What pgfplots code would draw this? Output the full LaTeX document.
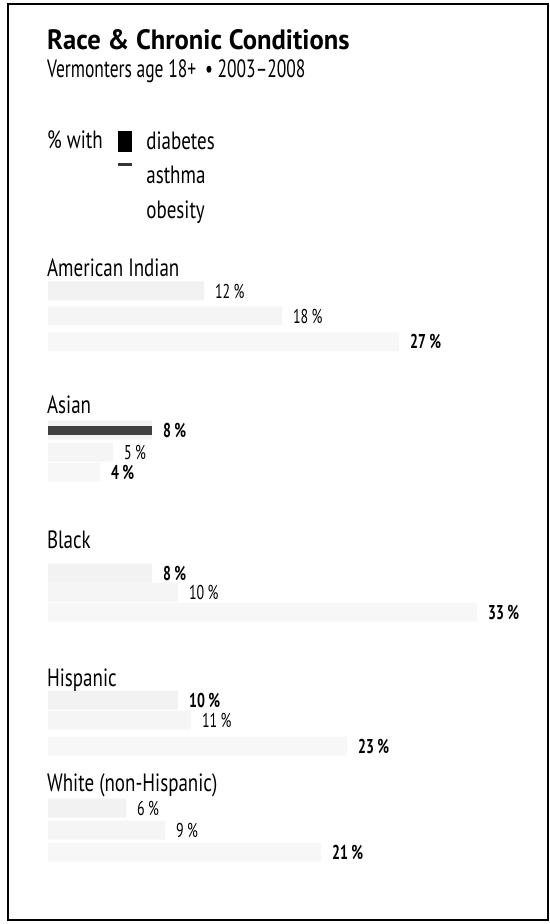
\documentclass[border=0pt]{standalone}
\usepackage{pgfplots}
\pgfplotsset{compat=1.18}
\usepackage{fontspec}
\setmainfont{PT Sans}[FakeStretch=0.76]
\newfontfamily\titlefont{PT Sans}[FakeStretch=0.95]
\newfontfamily\subfont{PT Sans}[FakeStretch=0.70]
\begin{document}
\begin{tikzpicture}
\begin{axis}[
  scale only axis, width=270pt, height=458pt,
  xmin=-3.077, xmax=38.46, ymin=4, ymax=920, y dir=reverse,
  xtick=\empty, ytick=\empty,
  axis line style={line width=1pt},
  clip=false,
  point meta=explicit symbolic,
  every node near coord/.append style={anchor=west, font=\subfont\fontsize{10}{12}\selectfont, xshift=2pt},
  legend style={at={(axis cs:5.38,127)}, anchor=north west, draw=none, fill=none,
    font=\fontsize{12.5}{14}\selectfont, row sep=3pt, inner sep=0pt,
    /tikz/every odd column/.append style={column sep=5pt}},
  legend cell align=left,
]
% diabetes
\addplot[xbar, bar shift=0pt, bar width=19, fill=black!5, draw=none, nodes near coords,
  legend image code/.code={\fill[black] (0pt,-5pt) rectangle (7pt,5.5pt);}]
  coordinates {(12,291) [12\,\%] (8,430) [\textbf{8\,\%}] (8,573) [\textbf{8\,\%}] (10,700) [\textbf{10\,\%}] (6,808) [6\,\%]};
\addlegendentry{diabetes}
% asthma
\addplot[xbar, bar shift=0pt, bar width=19, fill=black!4, draw=none, nodes near coords,
  legend image code/.code={\fill[black!80] (0pt,5pt) rectangle (7pt,6.5pt);}]
  coordinates {(18,316) [18\,\%] (5,452) [5\,\%] (10,592) [10\,\%] (11,720) [11\,\%] (9,830) [9\,\%]};
\addlegendentry{asthma}
% obesity
\addplot[xbar, bar shift=0pt, bar width=19, fill=black!3, draw=none, nodes near coords,
  legend image code/.code={}]
  coordinates {(27,342) [\textbf{27\,\%}] (4,472) [\textbf{4\,\%}] (33,612) [\textbf{33\,\%}] (23,746) [\textbf{23\,\%}] (21,852) [\textbf{21\,\%}]};
\addlegendentry{obesity}
% dark scan remnant of Asian diabetes bar
\addplot[xbar, bar shift=0pt, bar width=9, fill=black!75, draw=none, forget plot]
  coordinates {(8,430)};

\node[anchor=base west, inner sep=0pt, font=\titlefont\fontsize{14}{16}\selectfont\bfseries] at (axis cs:-0.1,50) {Race \& Chronic Conditions};
\node[anchor=base west, inner sep=0pt, font=\subfont\fontsize{12.5}{14}\selectfont] at (axis cs:-0.1,78) {Vermonters age 18+ \,• 2003–2008};
\node[anchor=west, inner sep=0pt, font=\fontsize{12.5}{14}\selectfont] at (axis cs:-0.1,140) {\% with};
\node[anchor=west, inner sep=0pt, font=\fontsize{12.5}{14}\selectfont] at (axis cs:-0.1,268) {American Indian};
\node[anchor=west, inner sep=0pt, font=\fontsize{12.5}{14}\selectfont] at (axis cs:-0.1,405) {Asian};
\node[anchor=west, inner sep=0pt, font=\fontsize{12.5}{14}\selectfont] at (axis cs:-0.1,540) {Black};
\node[anchor=west, inner sep=0pt, font=\fontsize{12.5}{14}\selectfont] at (axis cs:-0.1,680) {Hispanic};
\node[anchor=west, inner sep=0pt, font=\fontsize{12.5}{14}\selectfont] at (axis cs:-0.1,785) {White (non-Hispanic)};
\end{axis}
\path ([xshift=-4pt,yshift=-2pt]current axis.south west) rectangle ([xshift=1pt,yshift=2pt]current axis.north east);
\end{tikzpicture}
\end{document}
